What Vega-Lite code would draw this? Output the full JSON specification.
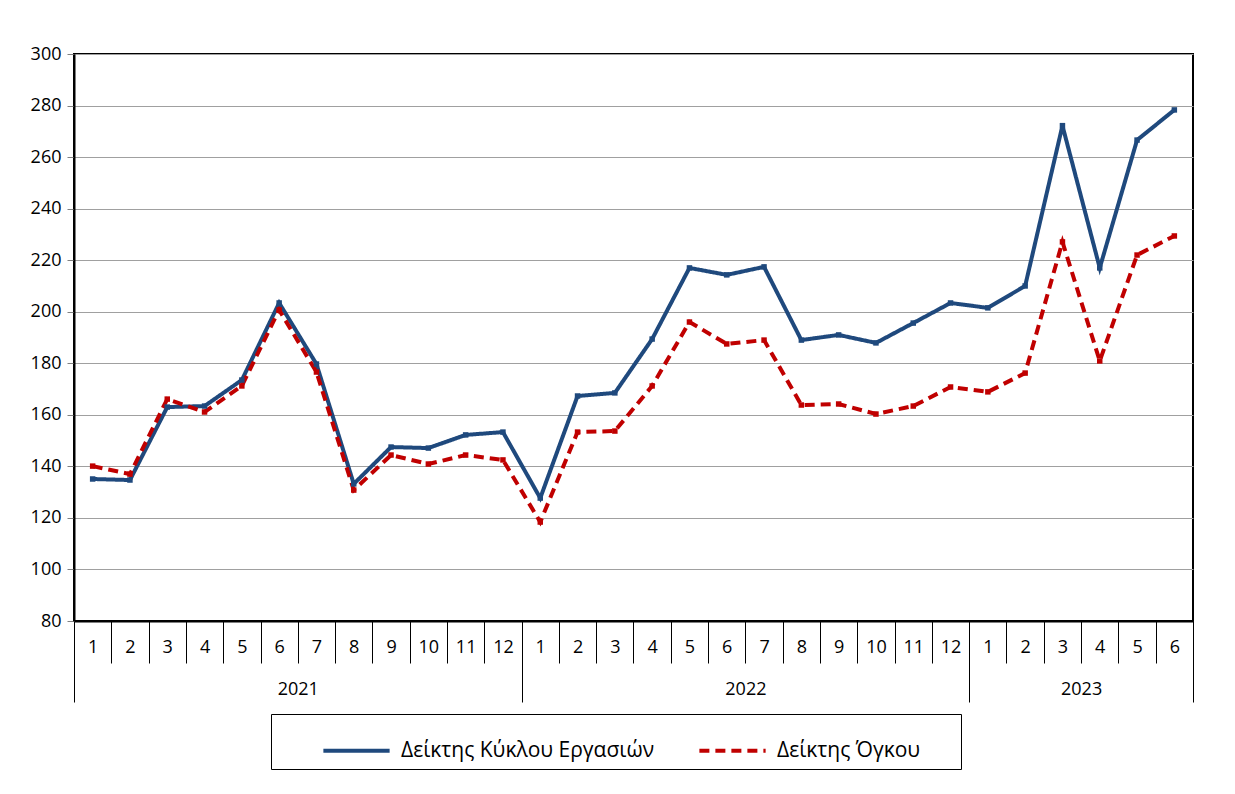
{
  "$schema": "https://vega.github.io/schema/vega-lite/v6.json",
  "autosize": {"type": "none"},
  "padding": {"left": 74, "top": 54, "right": 42, "bottom": 173},
  "width": 1119,
  "height": 567,
  "background": "white",
  "config": {
    "font": "Open Sans",
    "view": {"stroke": "#000000", "strokeWidth": 2}
  },
  "datasets": {
    "main": [
      {"key": "2021-1", "series": "Δείκτης Κύκλου Εργασιών", "value": 135.1},
      {"key": "2021-2", "series": "Δείκτης Κύκλου Εργασιών", "value": 134.7},
      {"key": "2021-3", "series": "Δείκτης Κύκλου Εργασιών", "value": 163.0},
      {"key": "2021-4", "series": "Δείκτης Κύκλου Εργασιών", "value": 163.4},
      {"key": "2021-5", "series": "Δείκτης Κύκλου Εργασιών", "value": 173.5},
      {"key": "2021-6", "series": "Δείκτης Κύκλου Εργασιών", "value": 203.4},
      {"key": "2021-7", "series": "Δείκτης Κύκλου Εργασιών", "value": 179.7},
      {"key": "2021-8", "series": "Δείκτης Κύκλου Εργασιών", "value": 133.2},
      {"key": "2021-9", "series": "Δείκτης Κύκλου Εργασιών", "value": 147.5},
      {"key": "2021-10", "series": "Δείκτης Κύκλου Εργασιών", "value": 147.1},
      {"key": "2021-11", "series": "Δείκτης Κύκλου Εργασιών", "value": 152.2},
      {"key": "2021-12", "series": "Δείκτης Κύκλου Εργασιών", "value": 153.3},
      {"key": "2022-1", "series": "Δείκτης Κύκλου Εργασιών", "value": 127.7},
      {"key": "2022-2", "series": "Δείκτης Κύκλου Εργασιών", "value": 167.3},
      {"key": "2022-3", "series": "Δείκτης Κύκλου Εργασιών", "value": 168.5},
      {"key": "2022-4", "series": "Δείκτης Κύκλου Εργασιών", "value": 189.4},
      {"key": "2022-5", "series": "Δείκτης Κύκλου Εργασιών", "value": 217.0},
      {"key": "2022-6", "series": "Δείκτης Κύκλου Εργασιών", "value": 214.3},
      {"key": "2022-7", "series": "Δείκτης Κύκλου Εργασιών", "value": 217.4},
      {"key": "2022-8", "series": "Δείκτης Κύκλου Εργασιών", "value": 189.0},
      {"key": "2022-9", "series": "Δείκτης Κύκλου Εργασιών", "value": 191.0},
      {"key": "2022-10", "series": "Δείκτης Κύκλου Εργασιών", "value": 187.9},
      {"key": "2022-11", "series": "Δείκτης Κύκλου Εργασιών", "value": 195.6},
      {"key": "2022-12", "series": "Δείκτης Κύκλου Εργασιών", "value": 203.4},
      {"key": "2023-1", "series": "Δείκτης Κύκλου Εργασιών", "value": 201.5},
      {"key": "2023-2", "series": "Δείκτης Κύκλου Εργασιών", "value": 210.0},
      {"key": "2023-3", "series": "Δείκτης Κύκλου Εργασιών", "value": 272.2},
      {"key": "2023-4", "series": "Δείκτης Κύκλου Εργασιών", "value": 217.0},
      {"key": "2023-5", "series": "Δείκτης Κύκλου Εργασιών", "value": 266.6},
      {"key": "2023-6", "series": "Δείκτης Κύκλου Εργασιών", "value": 278.3},
      {"key": "2021-1", "series": "Δείκτης Όγκου", "value": 140.1},
      {"key": "2021-2", "series": "Δείκτης Όγκου", "value": 137.0},
      {"key": "2021-3", "series": "Δείκτης Όγκου", "value": 166.1},
      {"key": "2021-4", "series": "Δείκτης Όγκου", "value": 161.1},
      {"key": "2021-5", "series": "Δείκτης Όγκου", "value": 171.2},
      {"key": "2021-6", "series": "Δείκτης Όγκου", "value": 200.7},
      {"key": "2021-7", "series": "Δείκτης Όγκου", "value": 176.6},
      {"key": "2021-8", "series": "Δείκτης Όγκου", "value": 130.8},
      {"key": "2021-9", "series": "Δείκτης Όγκου", "value": 144.4},
      {"key": "2021-10", "series": "Δείκτης Όγκου", "value": 140.9},
      {"key": "2021-11", "series": "Δείκτης Όγκου", "value": 144.4},
      {"key": "2021-12", "series": "Δείκτης Όγκου", "value": 142.5},
      {"key": "2022-1", "series": "Δείκτης Όγκου", "value": 118.4},
      {"key": "2022-2", "series": "Δείκτης Όγκου", "value": 153.3},
      {"key": "2022-3", "series": "Δείκτης Όγκου", "value": 153.7},
      {"key": "2022-4", "series": "Δείκτης Όγκου", "value": 171.2},
      {"key": "2022-5", "series": "Δείκτης Όγκου", "value": 196.0},
      {"key": "2022-6", "series": "Δείκτης Όγκου", "value": 187.5},
      {"key": "2022-7", "series": "Δείκτης Όγκου", "value": 189.0},
      {"key": "2022-8", "series": "Δείκτης Όγκου", "value": 163.8},
      {"key": "2022-9", "series": "Δείκτης Όγκου", "value": 164.2},
      {"key": "2022-10", "series": "Δείκτης Όγκου", "value": 160.3},
      {"key": "2022-11", "series": "Δείκτης Όγκου", "value": 163.4},
      {"key": "2022-12", "series": "Δείκτης Όγκου", "value": 170.8},
      {"key": "2023-1", "series": "Δείκτης Όγκου", "value": 168.9},
      {"key": "2023-2", "series": "Δείκτης Όγκου", "value": 176.2},
      {"key": "2023-3", "series": "Δείκτης Όγκου", "value": 227.1},
      {"key": "2023-4", "series": "Δείκτης Όγκου", "value": 180.9},
      {"key": "2023-5", "series": "Δείκτης Όγκου", "value": 222.0},
      {"key": "2023-6", "series": "Δείκτης Όγκου", "value": 229.4}
    ],
    "years": [
      {"year": "2021", "start": 0, "end": 12},
      {"year": "2022", "start": 12, "end": 24},
      {"year": "2023", "start": 24, "end": 30}
    ]
  },
  "layer": [
    {
      "data": {"name": "main"},
      "mark": {
        "type": "line",
        "strokeWidth": 4,
        "point": {"shape": "square", "filled": true, "size": 30}
      },
      "encoding": {
        "x": {
          "field": "key",
          "type": "ordinal",
          "sort": null,
          "bandPosition": 0.5,
          "scale": {"type": "band", "paddingInner": 0, "paddingOuter": 0},
          "axis": {
            "orient": "bottom",
            "title": null,
            "tickBand": "extent",
            "tickSize": 42,
            "tickColor": "#000000",
            "tickWidth": 1,
            "domain": true,
            "domainColor": "#000000",
            "domainWidth": 2,
            "labelExpr": "split(datum.label, '-')[1]",
            "labelAngle": 0,
            "labelFontSize": 18,
            "labelColor": "#000000",
            "labelPadding": -25,
            "labelBaseline": "top"
          }
        },
        "y": {
          "field": "value",
          "type": "quantitative",
          "scale": {"domain": [80, 300], "nice": false, "zero": false},
          "axis": {
            "title": null,
            "values": [80, 100, 120, 140, 160, 180, 200, 220, 240, 260, 280, 300],
            "grid": true,
            "gridColor": "#a0a0a0",
            "gridWidth": 1,
            "tickSize": 7,
            "tickColor": "#808080",
            "domainColor": "#000000",
            "domainWidth": 2,
            "labelFontSize": 18,
            "labelColor": "#000000",
            "labelPadding": 6
          }
        },
        "color": {
          "field": "series",
          "type": "nominal",
          "scale": {
            "domain": ["Δείκτης Κύκλου Εργασιών", "Δείκτης Όγκου"],
            "range": ["#1F497D", "#C00000"]
          },
          "legend": {
            "title": null,
            "orient": "none",
            "legendX": 197,
            "legendY": 660,
            "direction": "horizontal",
            "strokeColor": "#000000",
            "padding": 8,
            "symbolType": "M-1.25,0H1.25",
            "symbolSize": 2809,
            "symbolStrokeWidth": 4,
            "symbolOffset": 49,
            "labelFontSize": 21,
            "labelColor": "#000000",
            "labelOffset": 16,
            "columnPadding": 0,
            "labelLimit": 500,
            "labelExpr": "datum.label == 'Δείκτης Όγκου' ? datum.label + '\u00a0\u00a0\u00a0\u00a0\u00a0\u00a0\u200b' : datum.label"
          }
        },
        "strokeDash": {
          "field": "series",
          "type": "nominal",
          "scale": {
            "domain": ["Δείκτης Κύκλου Εργασιών", "Δείκτης Όγκου"],
            "range": [[1, 0], [10, 6]]
          },
          "legend": null
        }
      }
    },
    {
      "data": {"name": "years"},
      "mark": {"type": "rect", "opacity": 0},
      "encoding": {
        "x": {
          "field": "start",
          "type": "quantitative",
          "scale": {"domain": [0, 30], "nice": false, "zero": false},
          "axis": {
            "orient": "bottom",
            "title": null,
            "grid": false,
            "domain": false,
            "values": [0, 6, 12, 18, 24, 27, 30],
            "tickSize": 81,
            "tickColor": "#000000",
            "tickWidth": 1,
            "tickOpacity": {"condition": {"test": "datum.value == 6 || datum.value == 18 || datum.value == 27", "value": 0}, "value": 1},
            "labelExpr": "datum.value == 6 ? '2021' : datum.value == 18 ? '2022' : datum.value == 27 ? '2023' : ''",
            "labelFontSize": 18,
            "labelColor": "#000000",
            "labelPadding": -22,
            "labelBaseline": "top",
            "labelOverlap": false,
            "labelFlush": false
          }
        },
        "x2": {"field": "end"}
      }
    }
  ],
  "resolve": {"scale": {"x": "independent", "strokeDash": "shared", "color": "shared"}, "axis": {"x": "independent"}}
}
